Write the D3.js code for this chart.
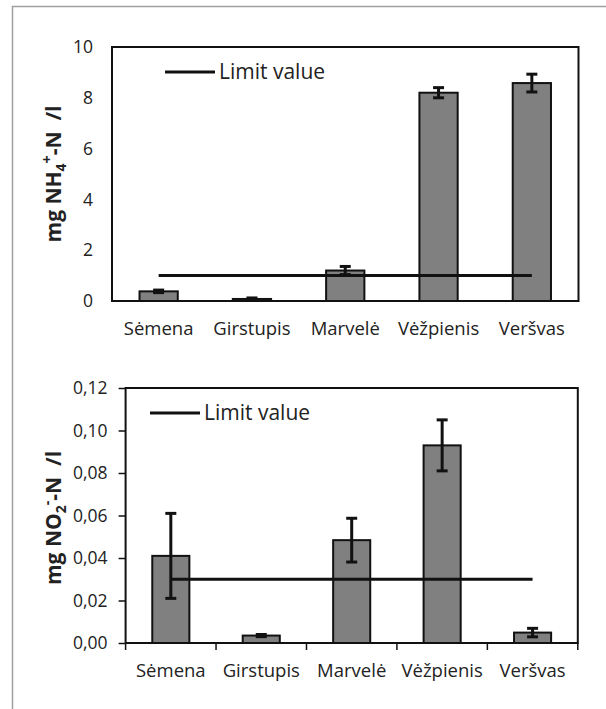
<!DOCTYPE html>
<html><head><meta charset="utf-8">
<script src="https://cdn.jsdelivr.net/npm/d3@7"></script>
<style>body{margin:0;background:#fff;} text{font-family:"Open Sans",sans-serif;fill:#222;}</style>
</head><body>
<svg id="c" width="606" height="709"></svg>
<script>
const categories = ["Sėmena","Girstupis","Marvelė","Vėžpienis","Veršvas"];
const nh4Values = [0.38, 0.08, 1.2, 8.2, 8.58];
const nh4Errors = [0.05, 0.04, 0.16, 0.2, 0.35];
const nh4Limit = 1.0;
const nh4Ticks = [0,2,4,6,8,10];
const no2Values = [0.041, 0.0035, 0.0484, 0.093, 0.0049];
const no2Errors = [0.020, 0.0005, 0.0103, 0.012, 0.002];
const no2Limit = 0.03;
const no2Ticks = [0,0.02,0.04,0.06,0.08,0.10,0.12];
const legendLabel = "Limit value";

const svg = d3.select("#c");
// outer frame
svg.append("path").attr("d","M12.5,709 L12.5,6.5 L606,6.5").attr("fill","none").attr("stroke","#a0a0a0").attr("stroke-width",1.5);

function chart(o){
  const g = svg.append("g");
  const x = d3.scaleBand().domain(categories).range([o.left,o.right]).paddingInner(0.59).paddingOuter(0.295);
  const y = d3.scaleLinear().domain([0,o.max]).range([o.bottom,o.top]);
  // box
  g.append("rect").attr("x",o.left).attr("y",o.top).attr("width",o.right-o.left).attr("height",o.bottom-o.top)
    .attr("fill","none").attr("stroke","#111").attr("stroke-width",2);
  // y axis
  const ya = d3.axisLeft(y).tickValues(o.ticks).tickSize(o.ytick).tickPadding(o.ypad).tickFormat(o.fmt);
  const yg = g.append("g").attr("transform",`translate(${o.left},0)`).call(ya);
  yg.select(".domain").remove();
  yg.selectAll("line").attr("stroke","#111").attr("stroke-width",1.5);
  yg.selectAll("text").attr("font-size",17.5).attr("font-family","Open Sans").attr("fill","#222");
  // x axis
  const xa = d3.axisBottom(x).tickSize(0).tickPadding(o.xpad);
  const xg = g.append("g").attr("transform",`translate(0,${o.bottom})`).call(xa);
  xg.select(".domain").remove();
  xg.selectAll("text").attr("font-size",18.5).attr("font-family","Open Sans").attr("fill","#222");
  if (o.xticks){
    const w = (o.right-o.left)/categories.length;
    g.selectAll(".xt").data(d3.range(categories.length+1)).join("line")
      .attr("x1",i=>o.left+i*w).attr("x2",i=>o.left+i*w)
      .attr("y1",o.bottom).attr("y2",o.bottom+7).attr("stroke","#111").attr("stroke-width",1.5);
  }
  // bars
  g.selectAll(".bar").data(categories).join("rect")
    .attr("x",d=>x(d)).attr("width",x.bandwidth())
    .attr("y",(d,i)=>y(o.values[i])).attr("height",(d,i)=>o.bottom-y(o.values[i]))
    .attr("fill","#808080").attr("stroke","#111").attr("stroke-width",2);
  // limit line
  const cx = d=>x(d)+x.bandwidth()/2;
  g.append("path").attr("d",d3.line()([[cx(categories[0]),y(o.limit)],[cx(categories[categories.length-1]),y(o.limit)]]))
    .attr("stroke","#111").attr("stroke-width",3).attr("fill","none");
  // error bars
  categories.forEach((d,i)=>{
    const v=o.values[i], e=o.errors[i], c=cx(d);
    const eg = g.append("g").attr("stroke","#111").attr("stroke-width",3);
    eg.append("line").attr("x1",c).attr("x2",c).attr("y1",y(v-e)).attr("y2",y(v+e));
    [v-e,v+e].forEach(t=>eg.append("line").attr("x1",c-5.5).attr("x2",c+5.5).attr("y1",y(t)).attr("y2",y(t)));
  });
  // legend
  g.append("line").attr("x1",o.legX).attr("x2",o.legX+50).attr("y1",o.legY).attr("y2",o.legY).attr("stroke","#111").attr("stroke-width",3);
  g.append("text").attr("x",o.legX+54).attr("y",o.legY).attr("dy","0.35em").attr("font-size",21).text(legendLabel);
  // y title
  const t = g.append("text").attr("transform",`translate(${o.titleX},${o.titleY}) rotate(-90)`)
    .attr("text-anchor","middle").attr("font-size",21).attr("font-weight","bold").attr("fill","#111")
    .style("white-space","pre");
  o.title(t);
}

chart({left:112,right:578.5,top:47,bottom:301,max:10,ticks:nh4Ticks,ytick:0,ypad:19,fmt:d3.format("d"),
  values:nh4Values,errors:nh4Errors,limit:nh4Limit,xpad:21,xticks:false,legX:165,legY:72,titleX:61,titleY:174,
  title:t=>{t.append("tspan").text("mg NH");t.append("tspan").attr("font-size",14).attr("dy",5).text("4");
    t.append("tspan").attr("font-size",14).attr("dy",-14).text("+");t.append("tspan").attr("dy",9).text("-N\u00a0\u00a0/l");}});

chart({left:125.6,right:577.8,top:388,bottom:643,max:0.12,ticks:no2Ticks,ytick:7,ypad:11,fmt:d=>d3.format(".2f")(d).replace(".",","),
  values:no2Values,errors:no2Errors,limit:no2Limit,xpad:21,xticks:true,legX:150,legY:413,titleX:61,titleY:518,
  title:t=>{t.append("tspan").text("mg NO");t.append("tspan").attr("font-size",14).attr("dy",5).text("2");
    t.append("tspan").attr("font-size",14).attr("dy",-14).text("-");t.append("tspan").attr("dy",9).text("-N\u00a0\u00a0/l");}});
</script>
</body></html>
